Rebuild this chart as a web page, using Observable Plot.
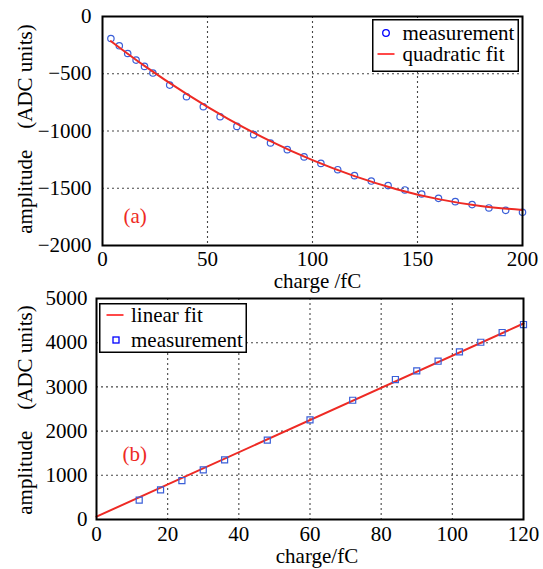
<!DOCTYPE html>
<html>
<head>
<meta charset="utf-8">
<script src="https://cdn.jsdelivr.net/npm/d3@7"></script>
<script src="https://cdn.jsdelivr.net/npm/@observablehq/plot@0.6"></script>
<style>
  body { margin: 0; background: #fff; }
  #wrap { position: relative; width: 543px; height: 569px; overflow: hidden; font-family: "Liberation Serif", "DejaVu Serif", serif; }
  #wrap svg.plot { position: absolute; left: 0; }
</style>
</head>
<body>
<div id="wrap"></div>
<script>
// ---- Panel (a): measurement (charge fC, amplitude ADC) ----
const chargeA = [4, 8, 12, 16, 20, 24, 32, 40, 48, 56, 64, 72, 80, 88, 96, 104, 112, 120, 128, 136, 144, 152, 160, 168, 176, 184, 192, 200];
const ampA    = [-192, -256, -323, -381, -436, -494, -599, -701, -788, -875, -960, -1032, -1105, -1163, -1226, -1283, -1338, -1390, -1437, -1477, -1515, -1550, -1588, -1617, -1643, -1672, -1693, -1710];
// quadratic fit curve
const fitChargeA = [4, 20, 40, 60, 80, 100, 120, 140, 160, 180, 200];
const fitAmpA    = [-215, -431, -676, -896, -1088, -1255, -1394, -1508, -1595, -1655, -1690];
const xTicksA = [0, 50, 100, 150, 200];
const yTicksA = [0, -500, -1000, -1500, -2000];

// ---- Panel (b) ----
const chargeB = [12, 18, 24, 30, 36, 48, 60, 72, 84, 90, 96, 102, 108, 114, 120];
const ampB    = [437, 670, 882, 1122, 1348, 1794, 2254, 2698, 3167, 3361, 3581, 3791, 4010, 4230, 4411];
const fitChargeB = [0, 120];
const fitAmpB    = [65, 4435];
const xTicksB = [0, 20, 40, 60, 80, 100, 120];
const yTicksB = [0, 1000, 2000, 3000, 4000, 5000];

const RED = "#ee2a24";
const BLUE = "#3a5fd8";
const FONT = "'Liberation Serif', 'DejaVu Serif', serif";
const fmt = d => d < 0 ? "\u2212" + Math.abs(d) : String(d);
const ylab = "amplitude\u00a0\u00a0\u00a0\u00a0(ADC units)";

const measA = chargeA.map((c, i) => ({charge: c, amp: ampA[i]}));
const fitA = fitChargeA.map((c, i) => ({charge: c, amp: fitAmpA[i]}));
const measB = chargeB.map((c, i) => ({charge: c, amp: ampB[i]}));
const fitB = fitChargeB.map((c, i) => ({charge: c, amp: fitAmpB[i]}));

const wrap = document.getElementById("wrap");
const T = {fontFamily: FONT, fontSize: 21};
const AX = {fontFamily: FONT, fontSize: 21, fontVariant: "normal"};

function serifize(svg) {
  d3.select(svg).selectAll("text, g")
    .attr("font-family", FONT)
    .style("font-family", FONT)
    .attr("font-variant", "normal")
    .style("font-variant", "normal");
}

const plotA = Plot.plot({
  width: 543, height: 284,
  marginLeft: 102, marginRight: 21, marginTop: 16, marginBottom: 39,
  style: {fontFamily: FONT, fontSize: "21px", color: "#000", background: "transparent", overflow: "visible"},
  x: {domain: [0, 200]},
  y: {domain: [-2000, 0]},
  marks: [
    Plot.gridX(xTicksA.slice(1, -1), {stroke: "#333", strokeOpacity: 0.9, strokeDasharray: "2,3", strokeWidth: 1.1}),
    Plot.gridY(yTicksA.slice(1, -1), {stroke: "#333", strokeOpacity: 0.9, strokeDasharray: "2,3", strokeWidth: 1.1}),
    Plot.axisX({ticks: xTicksA, tickSize: 0, tickPadding: 6, label: null, ...AX}),
    Plot.axisY({ticks: yTicksA, tickSize: 0, tickPadding: 11, label: null, tickFormat: fmt, ...AX}),
    Plot.dot(measA, {x: "charge", y: "amp", r: 3.2, stroke: BLUE, strokeWidth: 1.2, fill: "none"}),
    Plot.line(fitA, {x: "charge", y: "amp", stroke: RED, strokeWidth: 2, curve: "natural"}),
    Plot.frame({stroke: "#000", strokeWidth: 2}),
    Plot.text(["(a)"], {frameAnchor: "bottom-left", dx: 21, dy: -29, textAnchor: "start", lineAnchor: "middle", fill: RED, ...T}),
    Plot.text(["charge /fC"], {frameAnchor: "bottom", dx: 5, dy: 36, textAnchor: "middle", lineAnchor: "middle", fill: "#000", ...T}),
    Plot.text([ylab], {frameAnchor: "left", dx: -77, dy: -2, rotate: -90, textAnchor: "middle", lineAnchor: "middle", fill: "#000", ...T})
  ]
});
plotA.classList.add("plot");
plotA.style.top = "0px";
serifize(plotA);
wrap.appendChild(plotA);

const plotB = Plot.plot({
  width: 543, height: 285,
  marginLeft: 96, marginRight: 20, marginTop: 14, marginBottom: 50,
  style: {fontFamily: FONT, fontSize: "21px", color: "#000", background: "transparent", overflow: "visible"},
  x: {domain: [0, 120]},
  y: {domain: [0, 5000]},
  marks: [
    Plot.gridX(xTicksB.slice(1, -1), {stroke: "#333", strokeOpacity: 0.9, strokeDasharray: "2,3", strokeWidth: 1.1}),
    Plot.gridY(yTicksB.slice(1, -1), {stroke: "#333", strokeOpacity: 0.9, strokeDasharray: "2,3", strokeWidth: 1.1}),
    Plot.axisX({ticks: xTicksB, tickSize: 0, tickPadding: 7, label: null, ...AX}),
    Plot.axisY({ticks: yTicksB, tickSize: 0, tickPadding: 9, label: null, tickFormat: fmt, ...AX}),
    Plot.line(fitB, {x: "charge", y: "amp", stroke: RED, strokeWidth: 2}),
    Plot.dot(measB, {x: "charge", y: "amp", symbol: "square", r: 3.4, stroke: BLUE, strokeWidth: 1.2, fill: "none"}),
    Plot.frame({stroke: "#000", strokeWidth: 2}),
    Plot.text(["(b)"], {frameAnchor: "bottom-left", dx: 26, dy: -65, textAnchor: "start", lineAnchor: "middle", fill: RED, ...T}),
    Plot.text(["charge/fC"], {frameAnchor: "bottom", dx: 7, dy: 37, textAnchor: "middle", lineAnchor: "middle", fill: "#000", ...T}),
    Plot.text([ylab], {frameAnchor: "left", dx: -71, dy: 1, rotate: -90, textAnchor: "middle", lineAnchor: "middle", fill: "#000", ...T})
  ]
});
plotB.classList.add("plot");
plotB.style.top = "284px";
serifize(plotB);
wrap.appendChild(plotB);

// ---- Legends ----
function legend(left, top, w, h, rows) {
  const svg = d3.create("svg").attr("width", w).attr("height", h)
    .style("position", "absolute").style("left", left + "px").style("top", top + "px")
    .style("overflow", "visible");
  svg.append("rect").attr("x", 0.75).attr("y", 0.75).attr("width", w - 1.5).attr("height", h - 1.5)
    .attr("fill", "#fff").attr("stroke", "#000").attr("stroke-width", 1.5);
  for (const r of rows) {
    if (r.kind === "circle") {
      svg.append("circle").attr("cx", r.sx).attr("cy", r.y).attr("r", 3.3).attr("fill", "none").attr("stroke", "#0000ff").attr("stroke-width", 1.3);
    } else if (r.kind === "square") {
      svg.append("rect").attr("x", r.sx - 3).attr("y", r.y - 3).attr("width", 6).attr("height", 6).attr("fill", "none").attr("stroke", "#0000ff").attr("stroke-width", 1.3);
    } else {
      svg.append("line").attr("x1", r.sx - 8.5).attr("x2", r.sx + 8.5).attr("y1", r.y).attr("y2", r.y).attr("stroke", "#ff1a1a").attr("stroke-width", 1.6);
    }
    svg.append("text").attr("x", r.tx).attr("y", r.y).attr("dy", "0.33em")
      .style("font-family", FONT).attr("font-size", 21).attr("fill", "#000").text(r.label);
  }
  wrap.appendChild(svg.node());
}
legend(372, 19, 147, 53, [
  {kind: "circle", sx: 14, tx: 30.5, y: 14, label: "measurement"},
  {kind: "line", sx: 14, tx: 30.5, y: 35, label: "quadratic fit"}
]);
legend(99, 303, 148, 50, [
  {kind: "line", sx: 16, tx: 32, y: 12, label: "linear fit"},
  {kind: "square", sx: 17, tx: 32, y: 37, label: "measurement"}
]);
</script>
</body>
</html>
